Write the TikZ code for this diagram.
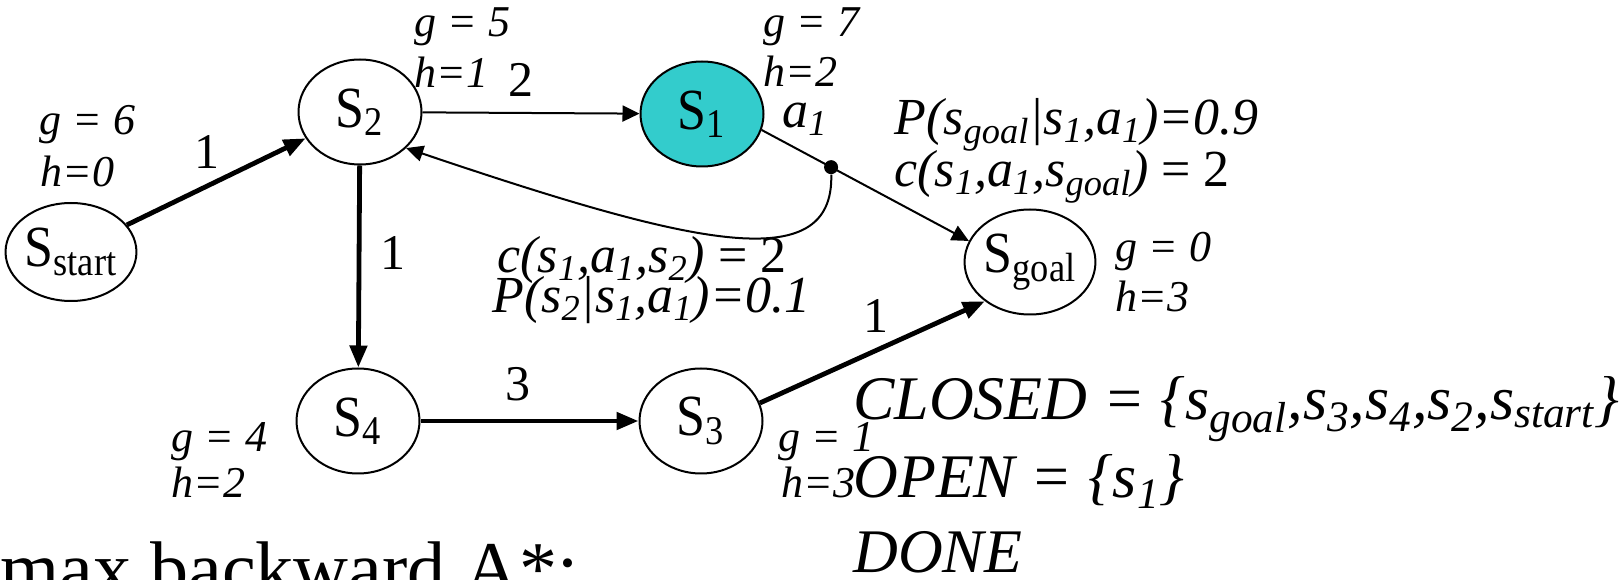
\documentclass[tikz,border=0pt]{standalone}
\usepackage{fontspec}
\setmainfont{Liberation Serif}
\usetikzlibrary{shapes.geometric,arrows.meta,calc}
\definecolor{openfill}{RGB}{51,204,204}
\newcommand{\statelab}[1]{\scalebox{1}[1.12]{S\textsubscript{#1}}}

\begin{document}
\begin{tikzpicture}[x=0.5pt,y=0.5pt,
  state/.style={draw,ellipse,line width=1pt,inner sep=0pt,minimum width=61.5pt,minimum height=52.5pt,font=\fontsize{26}{26}\selectfont},
  gh/.style={anchor=base west,inner sep=0pt,font=\fontsize{22}{22}\selectfont\itshape},
  cost/.style={font=\fontsize{25}{25}\selectfont},
  prob/.style={anchor=base west,inner sep=0pt,font=\fontsize{26}{26}\selectfont\itshape},
  big/.style={anchor=base west,inner sep=0pt,font=\fontsize{31}{31}\selectfont\itshape},
  trans/.style={line width=1pt,-{Triangle[length=8.5pt,width=8pt]}},
  heavytrans/.style={line width=2.4pt,-{Triangle[length=11pt,width=8.5pt]}}]
\clip (0,0) rectangle (1624,579);

% states
\node[state,minimum width=59pt,minimum height=49pt] (start) at (71,327) {\statelab{start}};
\node[state] (s2) at (360,467) {\statelab{2}};
\node[state,fill=openfill] (s1) at (702,465) {\statelab{1}};
\node[state] (goal) at (1030,317) {\statelab{goal}};
\node[state] (s4) at (358,158) {\statelab{4}};
\node[state] (s3) at (701,158) {\statelab{3}};

% g and h values
\node[gh] (gstart) at (39,444) {g = 6};
\node[gh] (hstart) at (40,392) {h=0};
\node[gh] (gs2) at (414,542) {g = 5};
\node[gh] (hs2) at (414,491) {h=1};
\node[gh] (gs1) at (763,542) {g = 7};
\node[gh] (hs1) at (763,492) {h=2};
\node[gh] (ggoal) at (1115,317) {g = 0};
\node[gh] (hgoal) at (1115,267) {h=3};
\node[gh] (gs4) at (171,127) {g = 4};
\node[gh] (hs4) at (171,82) {h=2};
\node[gh] (gs3) at (778,127) {g = 1};
\node[gh] (hs3) at (781,82) {h=3};

% edges
\draw[heavytrans] (start) -- (s2);
\draw[trans] (s2) -- (s1);
\draw[heavytrans] (s2) -- (s4);
\draw[heavytrans] (s4) -- (s3);
\draw[heavytrans] (s3.17) -- (goal.221);
\draw[trans] (s1.-15) -- (goal.161);
\node[circle,fill,inner sep=0pt,minimum size=7pt] (dot) at ($(s1.-15)!0.335!(goal.161)$) {};
\draw[trans] (dot) .. controls (834,300) and (690,335) .. (s2.-38);

% costs
\node[cost] (c1) at (207,427) {1};
\node[cost] (c2) at (521,499) {2};
\node[cost] (c3) at (393,326) {1};
\node[cost] (c4) at (518,195) {3};
\node[cost] (c5) at (876,263) {1};
\node[prob] (act) at (782,451) {a\textsubscript{1}};

% outcomes of a1
\node[prob] (pgoal) at (894,444) {P(s\textsubscript{goal}|s\textsubscript{1},a\textsubscript{1})=0.9};
\node[prob] (cgoal) at (894,392) {c(s\textsubscript{1},a\textsubscript{1},s\textsubscript{goal}) {\upshape = 2}};
\node[prob] (cs2) at (497,306) {c(s\textsubscript{1},a\textsubscript{1},s\textsubscript{2}) {\upshape = 2}};
\node[prob] (ps2) at (492,266) {P(s\textsubscript{2}|s\textsubscript{1},a\textsubscript{1})=0.1};

% lists
\node[big] (closed) at (853,159) {CLOSED = \{s\textsubscript{goal},s\textsubscript{3},s\textsubscript{4},s\textsubscript{2},s\textsubscript{start}\}};
\node[big] (open) at (853,82) {OPEN = \{s\textsubscript{1}\}};
\node[big] (done) at (853,7) {DONE};
\node[anchor=base west,inner sep=0pt,font=\fontsize{38}{38}\selectfont] (title) at (0,-15) {max backward A*:};
\end{tikzpicture}
\end{document}
